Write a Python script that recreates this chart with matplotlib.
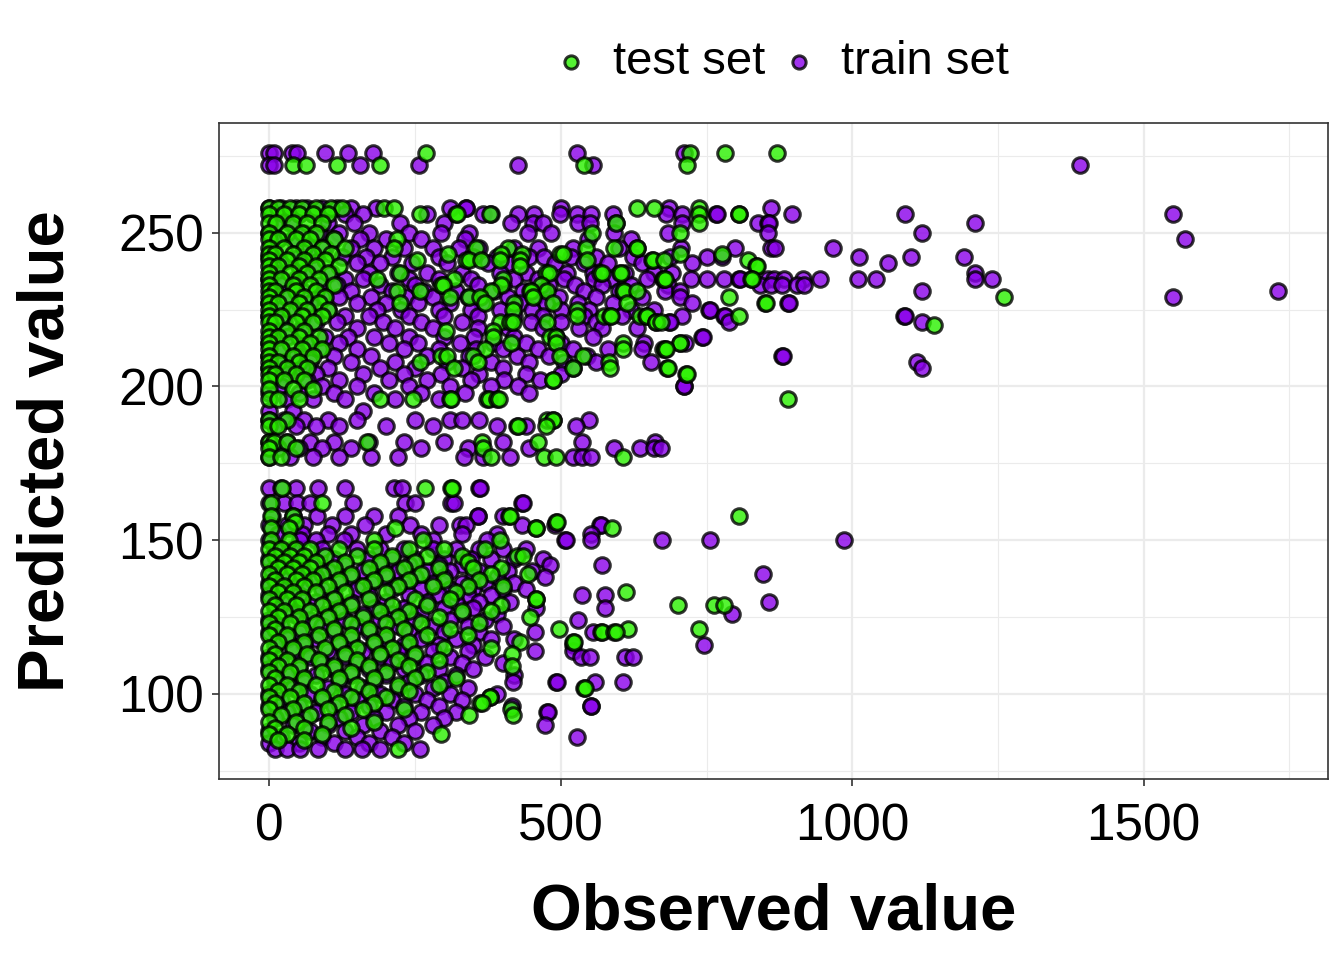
import numpy as np
import matplotlib
matplotlib.use("Agg")
import matplotlib.pyplot as plt
from matplotlib.ticker import MultipleLocator

plt.rcParams['font.family'] = ['Liberation Sans', 'DejaVu Sans']

train_rows = [
    (276, [0, 8, 39, 47, 96, 135, 178, 527, 711]),
    (272, [0, 7, 156, 257, 426, 555, 1390]),
    (258, [0, 20, 45, 65, 90, 115, 140, 182, 310, 337, 338, 500, 685, 860]),
    (256, [5, 50, 75, 130, 160, 270, 366, 380, 426, 454, 498, 528, 551, 590, 681, 707, 766, 768, 897, 1090, 1551]),
    (253, [10, 35, 100, 145, 224, 300, 414, 453, 470, 530, 550, 594, 708, 839, 856, 857, 1211]),
    (250, [0, 60, 85, 120, 170, 240, 295, 343, 443, 483, 591, 684, 855, 1120]),
    (248, [15, 40, 110, 155, 200, 260, 335, 546, 620, 1571]),
    (245, [5, 70, 95, 140, 180, 230, 280, 325, 360, 420, 460, 520, 600, 706, 799, 860, 868, 967]),
    (242, [0, 50, 125, 165, 210, 290, 350, 390, 445, 471, 517, 560, 623, 688, 750, 777, 1011, 1100, 1191]),
    (240, [20, 80, 150, 190, 245, 305, 375, 410, 490, 540, 580, 640, 725, 1061]),
    (237, [10, 60, 105, 170, 220, 270, 330, 395, 440, 510, 555, 610, 660, 690, 1211]),
    (235, [0, 45, 130, 160, 240, 290, 345, 420, 460, 506, 557, 586, 648, 724, 751, 780, 806, 808, 855,
           865, 883, 916, 945, 1010, 1041, 1211, 1240]),
    (233, [20, 85, 115, 190, 250, 300, 357, 400, 480, 525, 570, 620, 683, 842, 860, 880, 905, 917]),
    (231, [5, 55, 140, 210, 265, 320, 385, 435, 470, 540, 600, 678, 705, 1120, 1730]),
    (229, [30, 90, 120, 175, 235, 280, 340, 410, 455, 497, 560, 640, 704, 1551]),
    (227, [0, 70, 150, 200, 255, 310, 365, 430, 475, 530, 590, 725, 890, 891]),
    (225, [15, 45, 100, 185, 225, 290, 346, 395, 450, 500, 548, 620, 660, 754, 755]),
    (223, [0, 60, 130, 170, 240, 300, 357, 420, 470, 540, 605, 707, 780, 781, 1089, 1090]),
    (221, [25, 80, 115, 195, 260, 330, 449, 500, 560, 686, 688, 788, 1120]),
    (219, [5, 55, 150, 215, 280, 357, 410, 470, 531, 570, 630]),
    (216, [30, 95, 135, 180, 240, 300, 351, 420, 492, 555, 742, 743]),
    (214, [0, 65, 120, 205, 255, 327, 383, 440, 500, 643, 713]),
    (212, [20, 85, 150, 230, 290, 354, 400, 460, 521, 580, 640]),
    (210, [0, 45, 110, 175, 270, 343, 425, 480, 545, 880, 881]),
    (208, [25, 70, 140, 215, 305, 380, 446, 505, 560, 655, 1111]),
    (206, [0, 55, 100, 190, 250, 330, 400, 520, 1120]),
    (204, [30, 80, 160, 230, 295, 360, 440, 500]),
    (202, [5, 65, 120, 205, 270, 346, 402, 465]),
    (200, [20, 90, 150, 240, 310, 380, 426, 711, 712]),
    (198, [0, 50, 110, 180, 260, 335, 446]),
    (196, [30, 75, 130, 215, 290]),
    (192, [0, 40, 160]),
    (189, [0, 25, 60, 100, 150, 250, 309, 330, 360, 549]),
    (187, [10, 45, 80, 120, 200, 280, 390, 440, 526]),
    (182, [0, 30, 70, 110, 170, 230, 300, 400, 537, 661]),
    (180, [15, 50, 90, 140, 260, 340, 446, 591, 635, 660, 671]),
    (177, [0, 35, 75, 120, 175, 220, 334, 366, 412, 520, 537, 551]),
    (167, [0, 20, 45, 84, 130, 213, 227, 360, 361]),
    (162, [0, 25, 47, 70, 144, 233, 250, 312, 316, 434, 435]),
    (158, [5, 40, 82, 130, 179, 221, 357, 358, 401]),
    (155, [0, 30, 60, 107, 164, 241, 290, 327, 338, 433, 490, 567, 568]),
    (152, [15, 55, 100, 140, 200, 260, 330, 390, 552]),
    (150, [0, 53, 79, 127, 281, 373, 507, 509, 551, 674, 756, 985]),
    (147, [10, 40, 90, 150, 190, 230, 280, 320, 360, 400, 440]),
    (144, [0, 60, 110, 170, 210, 250, 300, 345, 380, 420, 470]),
    (142, [25, 75, 130, 190, 240, 290, 330, 481, 570]),
    (140, [5, 50, 100, 160, 220, 270, 310, 360, 410, 450]),
    (139, [847]),
    (138, [30, 80, 140, 200, 250, 300, 350, 390, 473]),
    (136, [0, 60, 120, 175, 230, 280, 330, 370, 420]),
    (134, [20, 90, 150, 210, 260, 310, 350, 400, 440]),
    (132, [0, 50, 110, 170, 240, 290, 340, 380, 537, 575]),
    (130, [30, 80, 140, 200, 270, 320, 360, 413, 857]),
    (128, [10, 60, 120, 180, 230, 300, 350, 457, 575]),
    (126, [40, 100, 160, 210, 260, 330, 390, 794]),
    (124, [0, 70, 130, 190, 250, 310, 370, 530]),
    (122, [20, 90, 150, 220, 280, 340, 400]),
    (120, [0, 50, 110, 170, 240, 300, 360, 455, 555]),
    (118, [30, 80, 140, 200, 260, 320, 380, 420]),
    (116, [10, 60, 120, 180, 230, 290, 350, 521, 745]),
    (114, [40, 100, 160, 220, 280, 340, 455, 520]),
    (112, [0, 70, 130, 190, 250, 310, 370, 535, 550, 610, 624]),
    (110, [20, 90, 150, 210, 270, 330, 400]),
    (108, [0, 50, 110, 170, 230, 290, 350]),
    (106, [30, 80, 140, 200, 260, 320, 420]),
    (104, [10, 60, 120, 180, 240, 300, 418, 491, 493, 558, 606]),
    (102, [40, 100, 160, 220, 280, 340]),
    (100, [0, 70, 130, 190, 250, 310, 390]),
    (98, [20, 90, 150, 210, 270, 330]),
    (96, [0, 50, 110, 170, 230, 290, 416, 551, 552]),
    (94, [30, 80, 140, 200, 260, 320, 477, 478]),
    (92, [10, 60, 120, 180, 240, 300]),
    (90, [40, 100, 160, 220, 280, 473]),
    (88, [0, 70, 130, 190, 250]),
    (86, [20, 90, 150, 210, 527]),
    (84, [0, 50, 110, 170, 230]),
    (82, [10, 30, 53, 84, 130, 159, 190, 258]),
]

test_rows = [
    (276, [268, 722, 782, 870]),
    (272, [41, 63, 116, 190, 539, 717]),
    (258, [0, 15, 35, 55, 80, 105, 125, 196, 213, 631, 660, 737]),
    (256, [0, 25, 50, 75, 100, 259, 320, 321, 378, 737, 805, 806]),
    (253, [0, 12, 40, 65, 90, 594, 737]),
    (250, [0, 30, 55, 80, 554, 705]),
    (248, [0, 15, 45, 70, 110, 219]),
    (245, [0, 25, 60, 90, 130, 213, 354, 409, 543, 591, 630, 631]),
    (243, [0, 10, 40, 75, 105, 306, 397, 434, 498, 503, 705, 777]),
    (241, [0, 30, 60, 95, 253, 338, 343, 363, 396, 430, 544, 657, 658, 677, 821]),
    (239, [0, 15, 50, 80, 120, 429, 834, 836]),
    (237, [0, 35, 65, 100, 224, 475, 480, 567, 571, 601, 603]),
    (235, [0, 20, 50, 85, 184, 317, 401, 675, 677, 678, 826, 828]),
    (233, [0, 40, 70, 110, 294, 298, 397, 466]),
    (231, [0, 10, 45, 80, 219, 259, 380, 447, 449, 477, 607, 608, 631]),
    (229, [0, 30, 60, 95, 309, 343, 361, 452, 788, 1260]),
    (227, [0, 15, 50, 85, 224, 369, 420, 487, 614, 851, 852]),
    (225, [0, 35, 65, 100, 418, 528]),
    (223, [0, 20, 55, 90, 528, 574, 584, 586, 636, 646, 647, 805]),
    (221, [0, 10, 45, 75, 396, 413, 417, 477, 663, 664, 671]),
    (220, [1140]),
    (218, [0, 30, 60, 303, 384]),
    (216, [0, 15, 50, 85, 383, 481, 492]),
    (214, [0, 35, 70, 414, 491, 606, 704, 705]),
    (212, [0, 20, 55, 90, 369, 607, 675, 678, 680]),
    (210, [0, 40, 75, 294, 305, 350, 498, 538]),
    (208, [0, 15, 50, 259, 357, 583]),
    (206, [0, 30, 65, 317, 521, 584, 682, 683]),
    (204, [0, 10, 45, 715, 717]),
    (202, [0, 25, 60, 486, 487]),
    (199, [0, 40, 75]),
    (196, [0, 15, 50, 190, 247, 310, 312, 373, 377, 390, 394, 889]),
    (189, [0, 30, 477, 486, 487]),
    (187, [0, 15, 424, 426, 475]),
    (182, [0, 7, 30, 167, 364, 460]),
    (180, [0, 45, 366]),
    (177, [0, 20, 380, 471, 491, 607]),
    (167, [22, 267, 312, 313]),
    (162, [2, 90]),
    (158, [2, 40, 411, 413, 805]),
    (156, [44, 491, 493]),
    (154, [2, 33, 216, 457, 458, 588]),
    (150, [2, 33, 179, 264, 395]),
    (147, [0, 20, 45, 70, 120, 180, 240, 300, 370]),
    (145, [10, 35, 60, 95, 150, 210, 270, 330, 424, 435]),
    (143, [0, 25, 50, 80, 130, 190, 250, 340]),
    (141, [15, 40, 70, 110, 170, 230, 290, 350, 398]),
    (139, [0, 30, 55, 90, 140, 200, 260, 380, 444]),
    (137, [10, 45, 75, 120, 180, 240, 300, 360]),
    (135, [0, 25, 60, 100, 160, 220, 280, 340, 400]),
    (133, [15, 40, 80, 130, 200, 320, 611]),
    (131, [0, 30, 55, 110, 170, 250, 310, 457, 458]),
    (129, [10, 45, 90, 140, 210, 270, 398, 701, 763, 780]),
    (127, [0, 25, 70, 120, 190, 240, 330, 380]),
    (125, [15, 50, 100, 160, 220, 290, 447]),
    (123, [0, 35, 80, 140, 200, 260, 360]),
    (121, [10, 55, 110, 170, 230, 310, 497, 615, 737]),
    (120, [568, 570, 591, 594]),
    (119, [0, 30, 85, 140, 200, 270, 340]),
    (117, [15, 60, 120, 180, 240, 430, 521, 522]),
    (115, [0, 40, 95, 150, 210, 300, 380]),
    (113, [10, 65, 130, 190, 250, 416]),
    (111, [0, 30, 85, 150, 220, 290]),
    (109, [15, 50, 110, 170, 240, 416]),
    (107, [0, 35, 90, 140, 200, 270]),
    (105, [10, 60, 120, 180, 250, 320]),
    (103, [0, 30, 80, 150, 220, 290]),
    (102, [540, 541]),
    (101, [15, 50, 110, 170, 240]),
    (99, [0, 35, 90, 140, 200, 378, 379]),
    (97, [10, 60, 120, 180, 362, 364]),
    (95, [0, 40, 100, 160, 230, 414]),
    (93, [20, 70, 130, 343, 418]),
    (91, [0, 45, 100, 180]),
    (89, [10, 60, 140]),
    (87, [0, 30, 90, 294]),
    (85, [15, 60]),
    (82, [220]),
]

x_ticks = [0, 500, 1000, 1500]
y_ticks = [100, 150, 200, 250]
test_color = '#2BF000'
train_color = '#8A00EA'


def flatten(rows):
    obs, pred = [], []
    for p, xs in rows:
        obs += xs
        pred += [p] * len(xs)
    return np.array(obs, dtype=float), np.array(pred, dtype=float)


train_x, train_y = flatten(train_rows)
test_x, test_y = flatten(test_rows)

fig = plt.figure(figsize=(13.44, 9.6), dpi=100)
ax = fig.add_axes([0.163, 0.1885, 0.825, 0.6835])

ax.scatter(train_x, train_y, s=125, c=train_color, edgecolors='black',
           linewidths=2.2, alpha=0.8, label='train set', zorder=3)
ax.scatter(test_x, test_y, s=125, c=test_color, edgecolors='black',
           linewidths=2.2, alpha=0.8, label='test set', zorder=3)

ax.set_xlim(-86.5, 1816)
ax.set_ylim(72.3, 285.7)
ax.set_xticks(x_ticks)
ax.set_yticks(y_ticks)
ax.xaxis.set_minor_locator(MultipleLocator(250))
ax.yaxis.set_minor_locator(MultipleLocator(25))
ax.grid(True, which='major', color='#EBEBEB', linewidth=1.6, zorder=0)
ax.grid(True, which='minor', color='#EBEBEB', linewidth=0.8, zorder=0)
ax.set_axisbelow(True)
ax.tick_params(which='major', length=5, width=1.2, color='#333333',
               labelsize=37, labelcolor='black')
ax.tick_params(axis='x', which='major', pad=12)
ax.tick_params(axis='y', which='major', pad=6)
ax.tick_params(which='minor', length=0)
for sp in ax.spines.values():
    sp.set_color('#333333')
    sp.set_linewidth(1.2)

ax.set_xlabel('Observed value', fontsize=47, fontweight='bold', labelpad=22)
ax.set_ylabel('Predicted value', fontsize=47, fontweight='bold', labelpad=30)

h, l = ax.get_legend_handles_labels()
leg = fig.legend([h[1], h[0]], [l[1], l[0]], loc='center', bbox_to_anchor=(0.579, 0.935),
                 ncol=2, frameon=False, fontsize=34, markerscale=0.85,
                 handlelength=1.0, handletextpad=0.4, columnspacing=0.2)

fig.savefig('out.png', dpi=100)
